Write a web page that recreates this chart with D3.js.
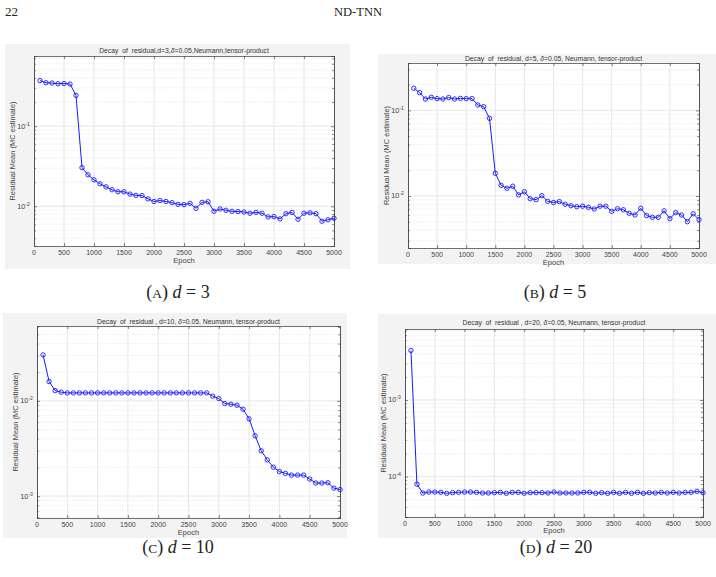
<!DOCTYPE html>
<html>
<head>
<meta charset="utf-8">
<script src="https://cdn.jsdelivr.net/npm/d3@7"></script>
<style>
  html, body { margin: 0; padding: 0; background: #ffffff; }
  svg { display: block; }
  .pre { white-space: pre; }
</style>
</head>
<body>
<svg id="fig" width="716" height="577"></svg>
<script>
// ---------------- DATA ----------------
const epochs = [100,200,300,400,500,600,700,800,900,1000,1100,1200,1300,1400,1500,1600,1700,1800,1900,2000,
  2100,2200,2300,2400,2500,2600,2700,2800,2900,3000,3100,3200,3300,3400,3500,3600,3700,3800,3900,4000,
  4100,4200,4300,4400,4500,4600,4700,4800,4900,5000];

const residualD3 = [0.370,0.348,0.345,0.338,0.340,0.335,0.242,0.0304,0.0247,0.0214,
  0.0191,0.0175,0.0161,0.0152,0.0152,0.0142,0.0137,0.0136,0.0124,0.0115,
  0.0118,0.0115,0.0111,0.0106,0.0105,0.0109,0.00945,0.0112,0.0114,0.00867,
  0.00927,0.00892,0.00867,0.00860,0.00850,0.00819,0.00840,0.00820,0.00738,0.00745,
  0.00697,0.00810,0.00840,0.00690,0.00820,0.00830,0.00810,0.00652,0.00680,0.00710];

const residualD5 = [0.181,0.161,0.1355,0.142,0.137,0.1355,0.141,0.1355,0.138,0.137,
  0.137,0.1154,0.1104,0.0807,0.0184,0.0133,0.0123,0.0130,0.0103,0.0112,
  0.0093,0.00906,0.0101,0.00867,0.0084,0.0086,0.0080,0.0077,0.0075,0.0076,
  0.00738,0.00705,0.0076,0.0076,0.00662,0.0071,0.0069,0.00628,0.0060,0.0072,
  0.0059,0.00564,0.00564,0.0067,0.00543,0.0064,0.0060,0.00501,0.0062,0.0053];

const residualD10 = [0.0304,0.01596,0.01283,0.01233,0.01213,0.01213,0.01213,0.01213,0.01213,0.01213,
  0.01213,0.01213,0.01213,0.01213,0.01213,0.01213,0.01213,0.01213,0.01213,0.01213,
  0.01213,0.01213,0.01213,0.01213,0.01213,0.01213,0.01213,0.01213,0.0112,0.01057,
  0.00937,0.00923,0.0090,0.00818,0.00648,0.00429,0.00299,0.0024,0.00201,0.00181,
  0.00173,0.00166,0.00166,0.00166,0.00151,0.00137,0.00137,0.00138,0.00121,0.00117];

const residualD20 = [0.00443,7.94e-5,6.10e-5,6.29e-5,6.29e-5,6.23e-5,6.05e-5,6.17e-5,6.23e-5,6.29e-5,
  6.29e-5,6.23e-5,6.11e-5,6.11e-5,6.17e-5,6.23e-5,6.05e-5,6.23e-5,6.23e-5,6.05e-5,
  6.17e-5,6.17e-5,6.17e-5,6.11e-5,6.29e-5,6.11e-5,6.11e-5,6.11e-5,6.11e-5,6.23e-5,
  6.23e-5,6.05e-5,6.17e-5,6.05e-5,6.23e-5,6.05e-5,6.23e-5,6.05e-5,6.23e-5,6.05e-5,
  6.17e-5,6.11e-5,6.23e-5,6.11e-5,6.23e-5,6.11e-5,6.23e-5,6.23e-5,6.42e-5,6.17e-5];

const xTicks = [0,500,1000,1500,2000,2500,3000,3500,4000,4500,5000];
const yTickExpA = [-1,-2];
const yTickExpB = [-1,-2];
const yTickExpC = [-2,-3];
const yTickExpD = [-3,-4];

const titlesPre = ["Decay  of  residual,d=3,", "Decay  of  residual, d=5, ", "Decay  of  residual , d=10, ", "Decay  of  residual , d=20, "];
const titlesPost = ["=0.05,Neumann,tensor-product", "=0.05, Neumann, tensor-product", "=0.05, Neumann, tensor-product", "=0.05, Neumann, tensor-product"];
const captionLetters = ["A", "B", "C", "D"];
const captionDims = ["3", "5", "10", "20"];
const yLabel = "Residual Mean (MC estimate)";
const xLabel = "Epoch";

// ---------------- LAYOUT ----------------
const panels = [
  { data: residualD3, exps: yTickExpA, dom: [0.0032, 0.75],
    bg: {x:5, y:44, w:345, h:225}, p: {l:34, t:56, r:334, b:246},
    titleY: 53, tickY: 255, xlabY: 263, ylabX: 15, cap: {x:178, y:298} },
  { data: residualD5, exps: yTickExpB, dom: [0.00247, 0.357],
    bg: {x:378, y:54, w:338, h:210}, p: {l:408, t:63, r:699, b:248},
    titleY: 61, tickY: 257, xlabY: 264.5, ylabX: 389, cap: {x:555, y:298} },
  { data: residualD10, exps: yTickExpC, dom: [0.000588, 0.0612],
    bg: {x:3, y:313, w:344, h:225}, p: {l:37, t:326, r:340, b:518},
    titleY: 323.5, tickY: 527, xlabY: 535, ylabX: 18, cap: {x:178, y:553} },
  { data: residualD20, exps: yTickExpD, dom: [2.97e-5, 0.00843],
    bg: {x:378, y:314, w:338, h:224}, p: {l:405, t:329, r:703, b:517},
    titleY: 325, tickY: 525.5, xlabY: 533, ylabX: 386, cap: {x:556, y:553} }
];

const svg = d3.select("#fig");
const chartFont = "'Liberation Sans', Arial, sans-serif";
const serif = "'Liberation Serif', 'DejaVu Serif', serif";

// page header
svg.append("text").attr("x", 5).attr("y", 16).attr("font-family", serif)
  .attr("font-size", 13).attr("fill", "#222").text("22");
svg.append("text").attr("x", 358).attr("y", 16).attr("text-anchor", "middle")
  .attr("font-family", serif).attr("font-size", 12.5).attr("fill", "#222").text("ND-TNN");

panels.forEach((P, i) => {
  const g = svg.append("g");
  g.append("rect").attr("x", P.bg.x).attr("y", P.bg.y).attr("width", P.bg.w).attr("height", P.bg.h)
    .attr("fill", "#f3f3f3");
  g.append("rect").attr("x", P.p.l).attr("y", P.p.t).attr("width", P.p.r - P.p.l).attr("height", P.p.b - P.p.t)
    .attr("fill", "#ffffff");

  const x = d3.scaleLinear().domain([0, 5000]).range([P.p.l, P.p.r]);
  const y = d3.scaleLog().domain(P.dom).range([P.p.b, P.p.t]);

  // minor / major positions on the log axis
  const lo = Math.floor(Math.log10(P.dom[0])), hi = Math.ceil(Math.log10(P.dom[1]));
  const minors = [], majors = [];
  for (let e = lo; e <= hi; e++) {
    const base = Math.pow(10, e);
    if (base >= P.dom[0] && base <= P.dom[1]) majors.push(base);
    for (let m = 2; m <= 9; m++) {
      const v = m * base;
      if (v > P.dom[0] && v < P.dom[1]) minors.push(v);
    }
  }
  g.selectAll(".mg").data(minors).enter().append("line")
    .attr("x1", P.p.l).attr("x2", P.p.r).attr("y1", d => y(d)).attr("y2", d => y(d))
    .attr("stroke", "#d6d6d6").attr("stroke-width", 0.6).attr("stroke-dasharray", "1,1.5");
  g.selectAll(".gy").data(majors).enter().append("line")
    .attr("x1", P.p.l).attr("x2", P.p.r).attr("y1", d => y(d)).attr("y2", d => y(d))
    .attr("stroke", "#e0e0e0").attr("stroke-width", 0.8);
  g.selectAll(".gx").data(xTicks.slice(1, -1)).enter().append("line")
    .attr("x1", d => x(d)).attr("x2", d => x(d)).attr("y1", P.p.t).attr("y2", P.p.b)
    .attr("stroke", "#e0e0e0").attr("stroke-width", 0.8);

  // axes (inward ticks, box)
  const axC = "#4d4d4d";
  const xb = g.append("g").attr("transform", `translate(0,${P.p.b})`)
    .call(d3.axisBottom(x).tickValues(xTicks).tickSize(-3).tickFormat(""));
  const xt = g.append("g").attr("transform", `translate(0,${P.p.t})`)
    .call(d3.axisTop(x).tickValues(xTicks).tickSize(-3).tickFormat(""));
  const yl = g.append("g").attr("transform", `translate(${P.p.l},0)`)
    .call(d3.axisLeft(y).tickValues(majors).tickSize(-3).tickFormat(""));
  const yr = g.append("g").attr("transform", `translate(${P.p.r},0)`)
    .call(d3.axisRight(y).tickValues(majors).tickSize(-3).tickFormat(""));
  const yl2 = g.append("g").attr("transform", `translate(${P.p.l},0)`)
    .call(d3.axisLeft(y).tickValues(minors).tickSize(-1.8).tickFormat(""));
  const yr2 = g.append("g").attr("transform", `translate(${P.p.r},0)`)
    .call(d3.axisRight(y).tickValues(minors).tickSize(-1.8).tickFormat(""));
  [xb, xt, yl, yr, yl2, yr2].forEach(a => {
    a.selectAll("path").attr("stroke", axC).attr("stroke-width", 0.8);
    a.selectAll("line").attr("stroke", axC).attr("stroke-width", 0.7);
  });

  // tick labels
  g.selectAll(".xl").data(xTicks).enter().append("text")
    .attr("x", d => x(d)).attr("y", P.tickY).attr("text-anchor", "middle")
    .attr("font-family", chartFont).attr("font-size", 7).attr("fill", "#444").text(d => d);
  P.exps.forEach(e => {
    const t = g.append("text").attr("x", P.p.l - 4).attr("y", y(Math.pow(10, e)) + 2.5)
      .attr("text-anchor", "end").attr("font-family", chartFont).attr("font-size", 7.3).attr("fill", "#444");
    t.append("tspan").text("10");
    t.append("tspan").attr("dy", -3).attr("font-size", 5.2).text(String(e));
  });

  // labels
  g.append("text").attr("x", (P.p.l + P.p.r) / 2).attr("y", P.xlabY).attr("text-anchor", "middle")
    .attr("font-family", chartFont).attr("font-size", 7.5).attr("fill", "#444").text(xLabel);
  g.append("text").attr("transform", `translate(${P.ylabX},${(P.p.t + P.p.b) / 2}) rotate(-90)`)
    .attr("text-anchor", "middle").attr("font-family", chartFont).attr("font-size", 7.5)
    .attr("fill", "#444").text(yLabel);
  const tt = g.append("text").attr("class", "pre").attr("x", (P.p.l + P.p.r) / 2).attr("y", P.titleY)
    .attr("text-anchor", "middle").attr("font-family", chartFont).attr("font-size", 6.8).attr("fill", "#333");
  tt.append("tspan").text(titlesPre[i]);
  tt.append("tspan").attr("font-style", "italic").text("δ");
  tt.append("tspan").text(titlesPost[i]);

  // series
  const pts = epochs.map((e, k) => [e, P.data[k]]);
  g.append("path").datum(pts)
    .attr("d", d3.line().x(d => x(d[0])).y(d => y(d[1])))
    .attr("fill", "none").attr("stroke", "#1a1aff").attr("stroke-width", 1);
  g.selectAll(".mk").data(pts).enter().append("circle")
    .attr("cx", d => x(d[0])).attr("cy", d => y(d[1])).attr("r", 2.2)
    .attr("fill", "none").attr("stroke", "#1a1aff").attr("stroke-width", 0.9);

  // caption
  const c = svg.append("text").attr("x", P.cap.x).attr("y", P.cap.y).attr("text-anchor", "middle")
    .attr("font-family", serif).attr("font-size", 18).attr("fill", "#222").attr("class", "pre");
  c.append("tspan").text("(");
  c.append("tspan").attr("font-size", 13.5).text(captionLetters[i]);
  c.append("tspan").text(") ");
  c.append("tspan").attr("font-style", "italic").text("d");
  c.append("tspan").text(" = " + captionDims[i]);
});
</script>
</body>
</html>
